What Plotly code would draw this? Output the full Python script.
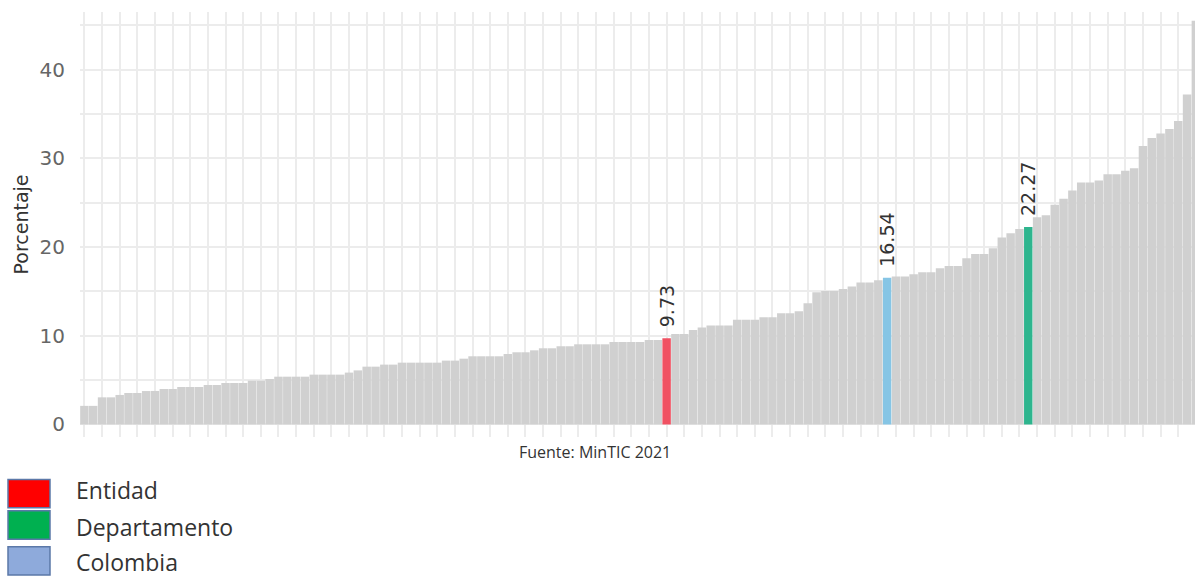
import plotly.graph_objects as go

# ---------------- data ----------------
valores = [
    2.10, 2.10, 3.06, 3.06, 3.33, 3.55, 3.55, 3.77, 3.78, 4.00,
    4.00, 4.23, 4.23, 4.23, 4.45, 4.45, 4.68, 4.68, 4.68, 4.94,
    4.94, 5.13, 5.39, 5.39, 5.39, 5.39, 5.62, 5.62, 5.62, 5.62,
    5.85, 6.10, 6.52, 6.52, 6.75, 6.75, 6.97, 6.97, 6.97, 6.97,
    6.97, 7.20, 7.20, 7.42, 7.69, 7.69, 7.69, 7.69, 7.95, 8.14,
    8.14, 8.36, 8.59, 8.59, 8.82, 8.82, 9.04, 9.04, 9.04, 9.04,
    9.30, 9.30, 9.30, 9.30, 9.53, 9.53, 9.73, 10.20, 10.20, 10.66,
    10.92, 11.15, 11.15, 11.15, 11.82, 11.82, 11.82, 12.08, 12.08, 12.54,
    12.54, 12.76, 13.67, 14.90, 15.06, 15.06, 15.28, 15.55, 16.00, 16.00,
    16.26, 16.54, 16.67, 16.67, 16.94, 17.16, 17.16, 17.61, 17.88, 17.88,
    18.74, 19.23, 19.23, 19.87, 21.07, 21.56, 22.05, 22.27, 23.36, 23.59,
    24.76, 25.44, 26.37, 27.27, 27.27, 27.50, 28.20, 28.20, 28.60, 28.90,
    31.40, 32.30, 32.80, 33.30, 34.20, 37.20, 45.50,
]
municipios = ["Municipio %d" % (i + 1) for i in range(len(valores))]

# highlighted bars: index -> (role, colour)
destacados = {
    66: ("Entidad", "#f05162"),
    91: ("Colombia", "#86c5e5"),
    107: ("Departamento", "#2eb58e"),
}
color_base = "#d0d0d0"

y_ticks = [0, 10, 20, 30, 40]
leyenda_nombres = ["Entidad", "Departamento", "Colombia"]
leyenda_colores = ["#ff0000", "#00b050", "#8eaadb"]
fuente = "Fuente: MinTIC 2021"

# ---------------- figure ----------------
colores = [destacados[i][1] if i in destacados else color_base for i in range(len(valores))]
textos = ["\u00a0\u200a%.2f" % v if i in destacados else "" for i, v in enumerate(valores)]

W, H = 1195, 576
L, R, T, B = 80, 0, 12, 139
pw, ph = W - L - R, H - T - B


def px(x):
    return (x - L) / pw


def py(y):
    return (H - B - y) / ph


fig = go.Figure()
fig.add_trace(go.Bar(
    x=municipios,
    y=valores,
    marker=dict(color=colores, line=dict(width=0)),
    text=textos,
    textposition="outside",
    textangle=-90,
    constraintext="none",
    cliponaxis=True,
    textfont=dict(family="DejaVu Sans", size=19, color="#333333"),
    hoverinfo="x+y",
    showlegend=False,
))

fig.update_layout(
    width=W, height=H,
    margin=dict(l=L, r=R, t=T, b=B, pad=0, autoexpand=False),
    paper_bgcolor="white",
    plot_bgcolor="white",
    bargap=0.04,
    font=dict(family="DejaVu Sans", color="#444"),
)

fig.update_xaxes(
    type="category",
    range=[-0.5, 125.9],
    automargin=False,
    showticklabels=False,
    showgrid=True,
    gridcolor="#ececec",
    gridwidth=2,
    zeroline=False,
    showline=False,
    ticks="",
)

fig.update_yaxes(
    range=[-1.41, 46.5],
    automargin=False,
    tickvals=y_ticks,
    tickfont=dict(family="DejaVu Sans", size=20, color="#666666"),
    ticklabelstandoff=14,
    showgrid=True,
    gridcolor="#ececec",
    gridwidth=2,
    minor=dict(dtick=5, tick0=0, showgrid=True, gridcolor="#ececec", gridwidth=2),
    zeroline=False,
    showline=False,
    title=dict(text="Porcentaje", font=dict(family="DejaVu Sans", size=19, color="#333333"), standoff=5),
)

# source note
fig.add_annotation(
    text=fuente, xref="paper", yref="paper",
    x=px(595), y=py(452), xanchor="center", yanchor="middle",
    showarrow=False,
    font=dict(family="Open Sans", size=16, color="#333333"),
)

# custom legend (boxes + labels)
filas_y = [(479.5, 507.7), (510.7, 539.3), (546.7, 575.0)]
texto_y = [490.0, 527.0, 562.0]
for nombre, color, (y0, y1), ty in zip(leyenda_nombres, leyenda_colores, filas_y, texto_y):
    fig.add_shape(
        type="rect", xref="paper", yref="paper",
        x0=px(8), x1=px(50), y0=py(y1), y1=py(y0),
        fillcolor=color, line=dict(color="#5b78a8", width=1.5),
    )
    fig.add_annotation(
        text=nombre, xref="paper", yref="paper",
        x=px(74), y=py(ty), xanchor="left", yanchor="middle",
        showarrow=False,
        font=dict(family="Open Sans", size=23, color="#333333"),
    )

fig.write_html(
    "out.html",
    config={"displayModeBar": False},
    post_script="document.body.style.margin='0px';",
)
